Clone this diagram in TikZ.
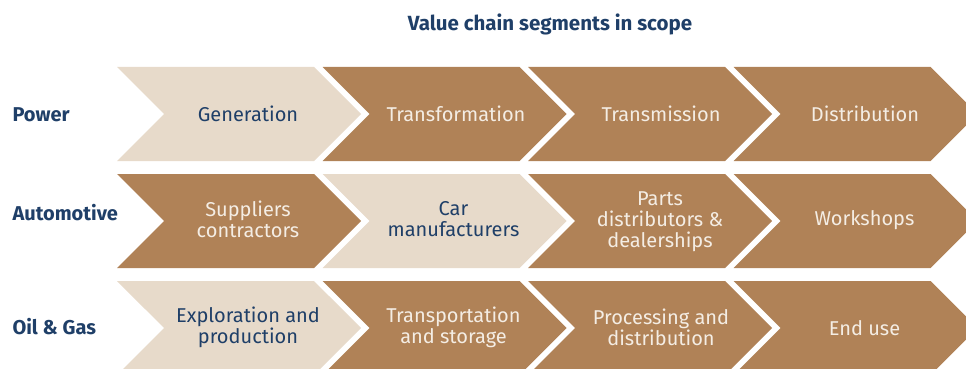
\documentclass[tikz,border=0pt]{standalone}
\usepackage{fontspec}
\setmainfont{Fira Sans}
\usetikzlibrary{shapes.symbols,positioning}

\definecolor{navy}{HTML}{1F3F68}
\definecolor{sand}{HTML}{E7DACA}
\definecolor{bronze}{HTML}{B08257}
\definecolor{cream}{HTML}{F4EDE4}

\begin{document}
\begin{tikzpicture}[
    x=1pt, y=-1pt,
    seg/.style={signal, signal from=west, signal to=east, signal pointer angle=90, minimum width=244pt, minimum height=94pt, inner sep=0pt},
    light/.style={seg, fill=sand},
    dark/.style={seg, fill=bronze},
    ontext/.style={text=navy, align=center, font=\fontsize{20}{21}\selectfont},
    offtext/.style={ontext, text=cream},
    sector/.style={text=navy, anchor=base west, font=\fontsize{20}{21}\selectfont\bfseries}
]
\useasboundingbox (0,0) rectangle (966,369);

% Title
\node[text=navy, anchor=base, font=\fontsize{20.5}{21}\selectfont\bfseries] (title) at (550,31) {Value chain segments in scope};

% Sectors
\node[sector] (power) at (9,121) {Power};
\node[sector] (auto) at (9,220) {Automotive};
\node[sector] (oil) at (9,334) {Oil \& Gas};

% Power
\node[light] (p1) at (239,114) {};
\node[dark] (p2) at (444.5,114) {};
\node[dark] (p3) at (650,114) {};
\node[dark] (p4) at (855.5,114) {};
\node[ontext] (p1t) at (248,114) {Generation};
\node[offtext] (p2t) at (456,114) {Transformation};
\node[offtext] (p3t) at (661,114) {Transmission};
\node[offtext] (p4t) at (865,114) {Distribution};

% Automotive
\node[dark] (a1) at (239,221) {};
\node[light] (a2) at (444.5,221) {};
\node[dark] (a3) at (650,221) {};
\node[dark] (a4) at (855.5,221) {};
\node[offtext] (a1t) at (248,219) {Suppliers\\contractors};
\node[ontext] (a2t) at (453.5,219) {Car\\manufacturers};
\node[offtext] (a3t) at (660,222) {Parts\\distributors \&\\dealerships};
\node[offtext] (a4t) at (864.5,220) {Workshops};

% Oil & Gas
\node[light] (o1) at (239,328) {};
\node[dark] (o2) at (444.5,328) {};
\node[dark] (o3) at (650,328) {};
\node[dark] (o4) at (855.5,328) {};
\node[ontext] (o1t) at (248,327) {Exploration and\\production};
\node[offtext] (o2t) at (453.5,327) {Transportation\\and storage};
\node[offtext] (o3t) at (661,327) {Processing and\\distribution};
\node[offtext] (o4t) at (864.5,328) {End use};

\end{tikzpicture}
\end{document}
